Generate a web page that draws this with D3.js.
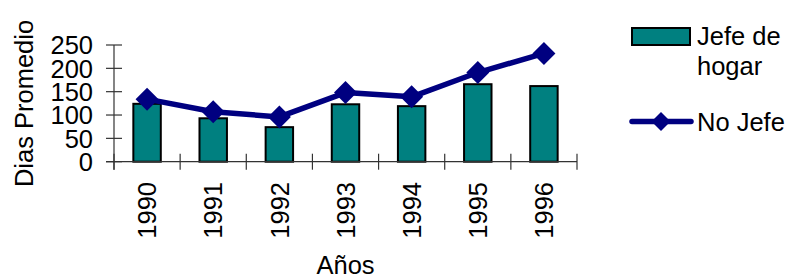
<!DOCTYPE html>
<html>
<head>
<meta charset="utf-8">
<script src="https://cdn.jsdelivr.net/npm/d3@7"></script>
<style>
  html, body { margin: 0; padding: 0; background: #fff; }
  svg { display: block; font-family: Arial, "Liberation Sans", sans-serif; }
</style>
</head>
<body>
<svg id="chart" width="790" height="278"></svg>
<script>
// Data
const years = ['1990', '1991', '1992', '1993', '1994', '1995', '1996'];
const jefeHogar = [124, 93, 74, 123, 119, 166, 162];
const noJefe = [134, 107, 96, 148, 139, 191, 232];
const yTicks = [0, 50, 100, 150, 200, 250];

const svg = d3.select('#chart');
const fontSize = 25.5;

// Scales: plot area spans the axis box
const x = d3.scaleBand().domain(years).range([114, 577])
  .paddingInner(0.585).paddingOuter(0.2925);
const y = d3.scaleLinear().domain([0, 250]).range([161.7, 45]);
const step = x.step();
const bandCenter = d => x(d) + x.bandwidth() / 2;

const axisColor = '#333';

// Y axis line + crossing ticks
svg.append('line')
  .attr('x1', 114).attr('x2', 114)
  .attr('y1', y(250)).attr('y2', y(0) + 8)
  .attr('stroke', axisColor).attr('stroke-width', 1.2);
svg.selectAll('line.ytick').data(yTicks).enter().append('line')
  .attr('class', 'ytick')
  .attr('x1', 106).attr('x2', 122)
  .attr('y1', d => y(d)).attr('y2', d => y(d))
  .attr('stroke', axisColor).attr('stroke-width', 1.2);
svg.selectAll('text.ylab').data(yTicks).enter().append('text')
  .attr('class', 'ylab')
  .attr('x', 93).attr('y', d => y(d))
  .attr('dy', '0.36em')
  .attr('text-anchor', 'end')
  .attr('font-size', fontSize)
  .text(d => d);

// Bars (drawn before x axis so the axis line sits on top)
svg.selectAll('rect.bar').data(years).enter().append('rect')
  .attr('class', 'bar')
  .attr('x', d => x(d))
  .attr('y', (d, i) => y(jefeHogar[i]))
  .attr('width', x.bandwidth())
  .attr('height', (d, i) => y(0) - y(jefeHogar[i]))
  .attr('fill', '#008080')
  .attr('stroke', '#000')
  .attr('stroke-width', 2);

// X axis line + boundary ticks
svg.append('line')
  .attr('x1', 106).attr('x2', 577)
  .attr('y1', y(0)).attr('y2', y(0))
  .attr('stroke', axisColor).attr('stroke-width', 1.2);
const bounds = d3.range(years.length + 1).map(i => 114 + i * step);
svg.selectAll('line.xtick').data(bounds).enter().append('line')
  .attr('class', 'xtick')
  .attr('x1', d => d).attr('x2', d => d)
  .attr('y1', y(0) - 8).attr('y2', y(0) + 8)
  .attr('stroke', axisColor).attr('stroke-width', 1.2);

// Rotated year labels
svg.selectAll('text.xlab').data(years).enter().append('text')
  .attr('class', 'xlab')
  .attr('transform', d => `translate(${bandCenter(d) + 9.2},182) rotate(-90)`)
  .attr('text-anchor', 'end')
  .attr('font-size', fontSize)
  .text(d => d);

// Line series
const line = d3.line()
  .x((d, i) => bandCenter(years[i]))
  .y(d => y(d));
svg.append('path')
  .datum(noJefe)
  .attr('d', line)
  .attr('fill', 'none')
  .attr('stroke', '#000080')
  .attr('stroke-width', 5.5)
  .attr('stroke-linejoin', 'round');

const diamond = (cx, cy, r) =>
  `M${cx},${cy - r}L${cx + r},${cy}L${cx},${cy + r}L${cx - r},${cy}Z`;
svg.selectAll('path.marker').data(noJefe).enter().append('path')
  .attr('class', 'marker')
  .attr('d', (d, i) => diamond(bandCenter(years[i]), y(d), 11.5))
  .attr('fill', '#000080');

// Axis titles
svg.append('text')
  .attr('transform', 'translate(33,103.5) rotate(-90)')
  .attr('text-anchor', 'middle')
  .attr('font-size', fontSize)
  .text('Dias Promedio');
svg.append('text')
  .attr('x', 345.5).attr('y', 274)
  .attr('text-anchor', 'middle')
  .attr('font-size', fontSize)
  .text('Años');

// Legend
const leg = svg.append('g');
leg.append('rect')
  .attr('x', 632).attr('y', 28).attr('width', 58).attr('height', 17)
  .attr('fill', '#008080').attr('stroke', '#000').attr('stroke-width', 2);
leg.append('text').attr('x', 697).attr('y', 45).attr('font-size', fontSize).text('Jefe de');
leg.append('text').attr('x', 697).attr('y', 75).attr('font-size', fontSize).text('hogar');
leg.append('line')
  .attr('x1', 632).attr('x2', 691).attr('y1', 121.5).attr('y2', 121.5)
  .attr('stroke', '#000080').attr('stroke-width', 5.5).attr('stroke-linecap', 'round');
leg.append('path').attr('d', diamond(661, 121.5, 9.5)).attr('fill', '#000080');
leg.append('text').attr('x', 697).attr('y', 131).attr('font-size', fontSize).text('No Jefe');
</script>
</body>
</html>
